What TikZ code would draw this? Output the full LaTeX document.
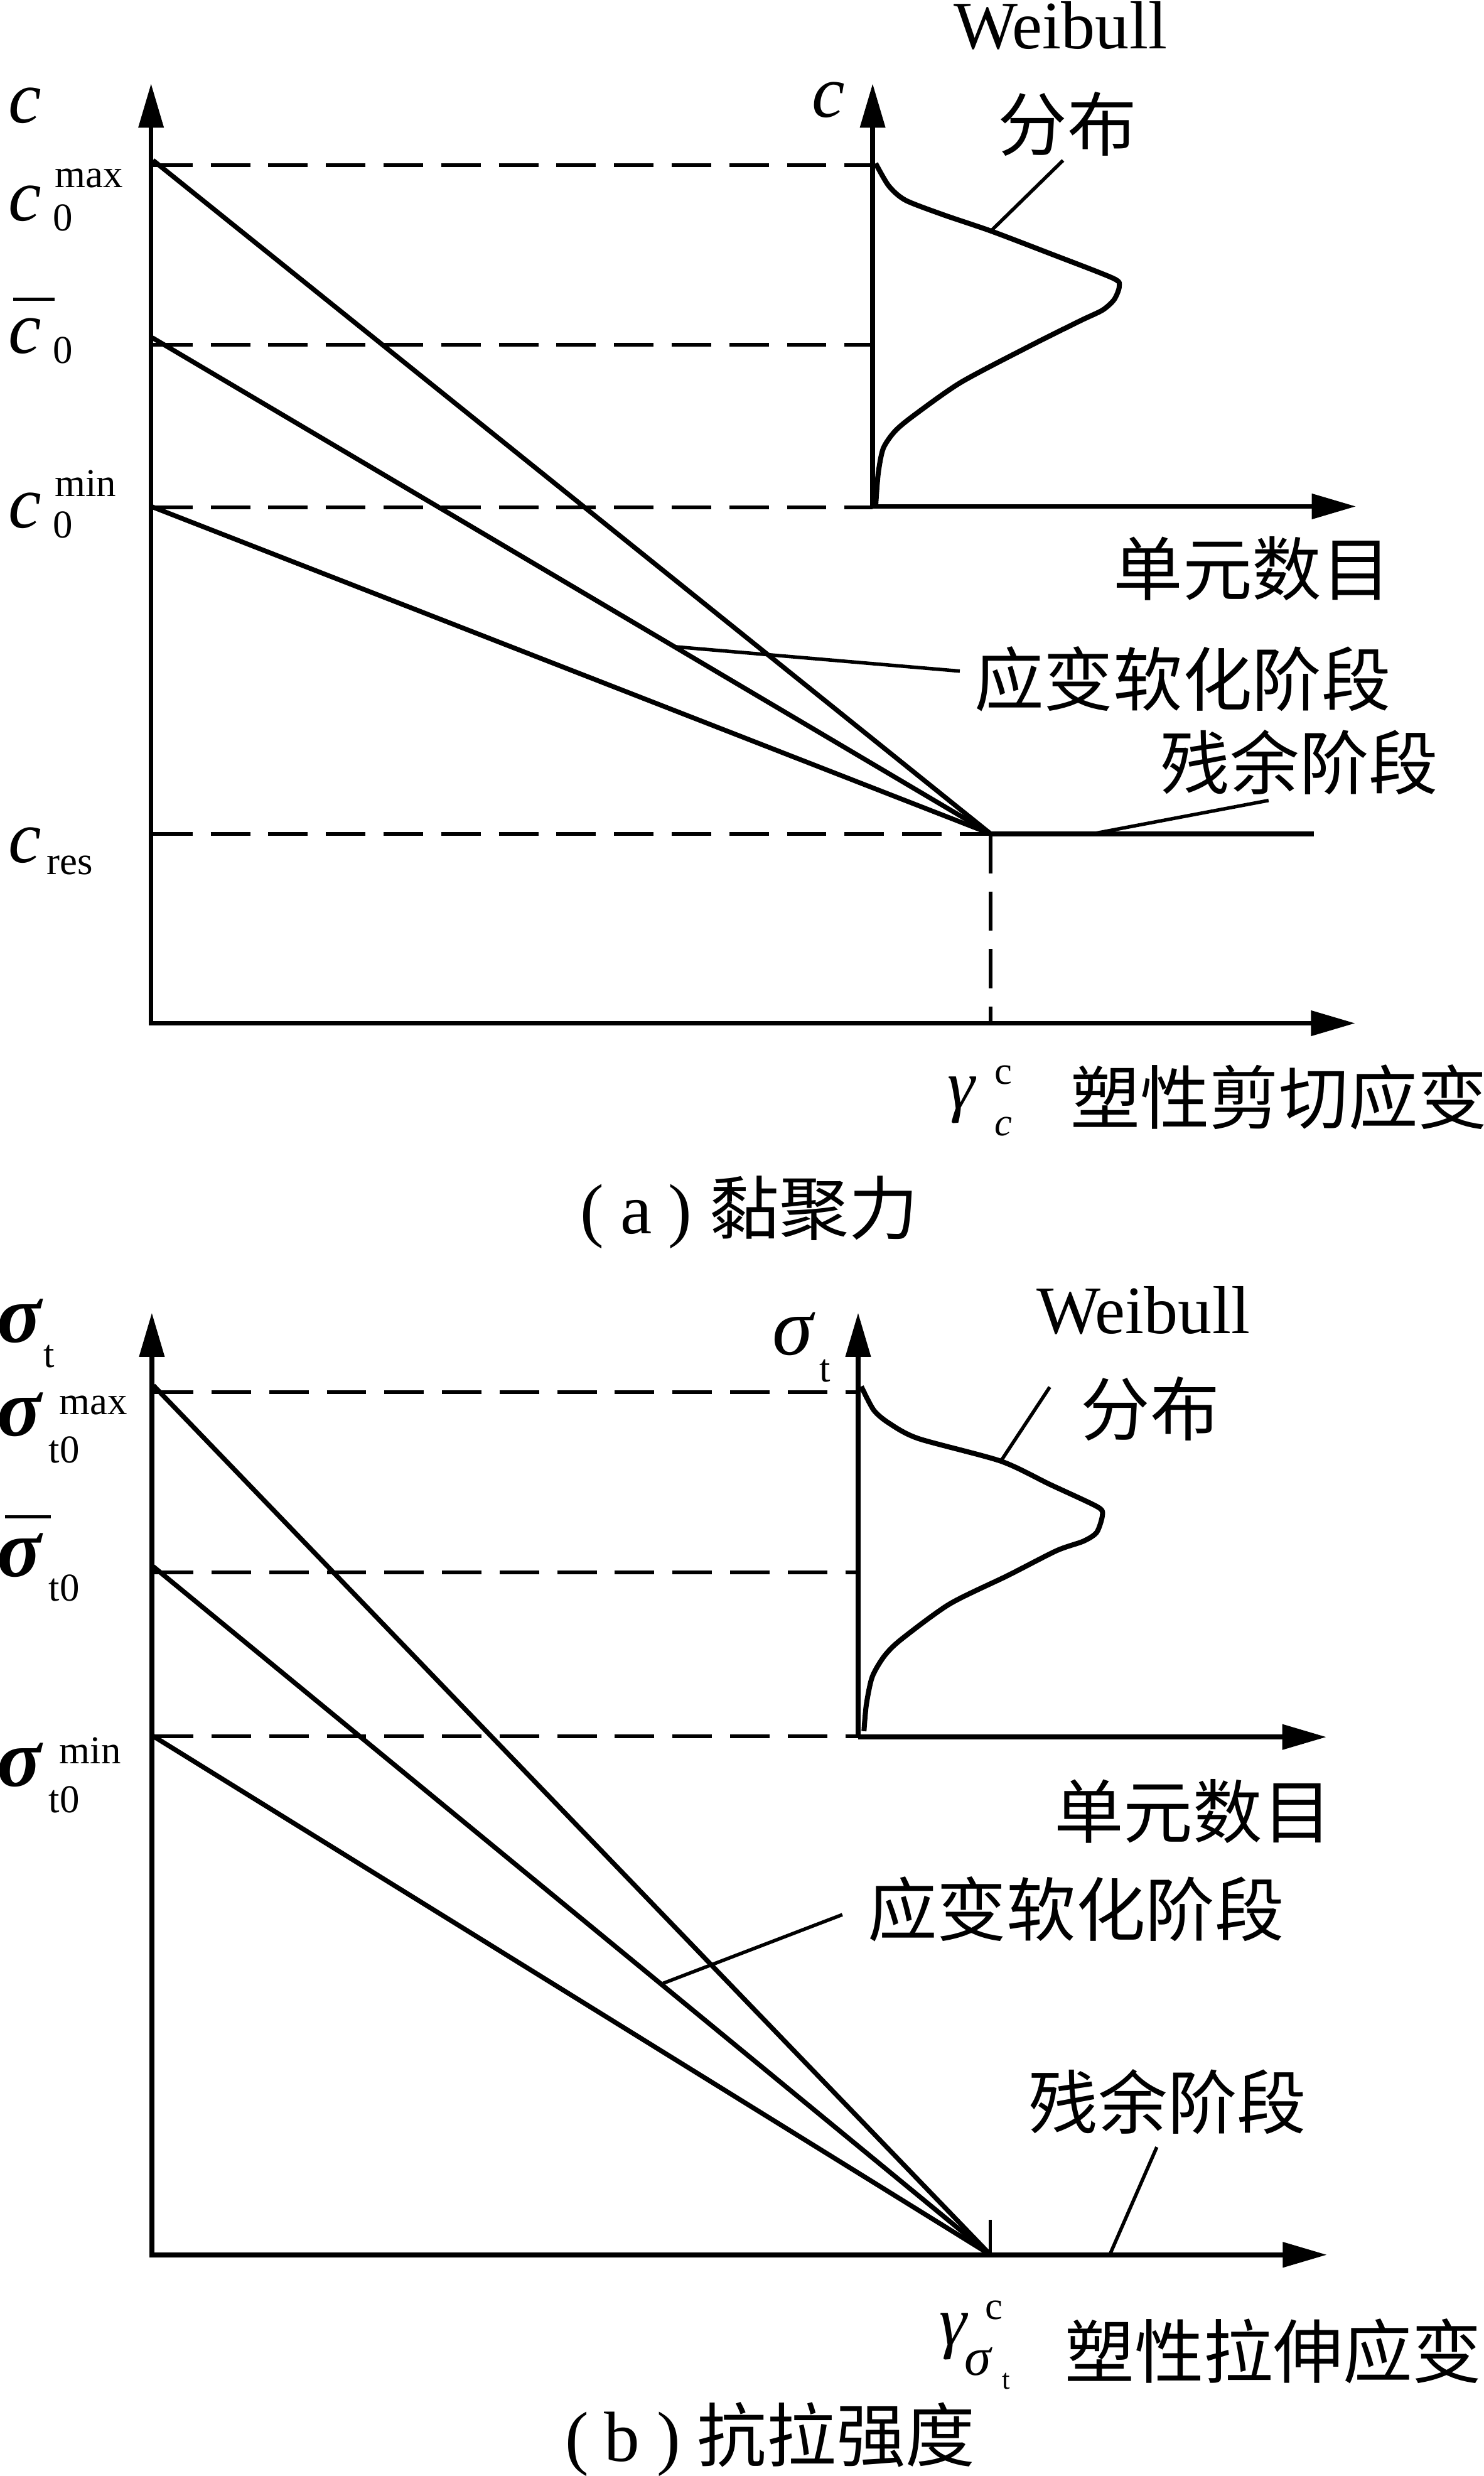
\documentclass[tikz,border=0pt]{standalone}
\usepackage{fontspec}
\setmainfont{Liberation Serif}
\newfontfamily\cjkfont{Noto Sans CJK SC}
\usetikzlibrary{arrows.meta}
\newcommand\szBig{\fontsize{47}{52}\selectfont}
\newcommand\szGam{\fontsize{44}{50}\selectfont}
\newcommand\szSig{\fontsize{52}{58}\selectfont}
\newcommand\szSm{\fontsize{25}{30}\selectfont}
\newcommand\szSubSig{\fontsize{34}{38}\selectfont}
\newcommand\szTiny{\fontsize{18}{22}\selectfont}
\newcommand\szW{\fontsize{43}{48}\selectfont}
\newcommand\szCap{\fontsize{45}{50}\selectfont}
\newcommand\szCJK{\fontsize{44}{50}\selectfont\cjkfont}
\begin{document}
\begin{tikzpicture}[x=1pt,y=-1pt,
  axis/.style={line width=3pt,-{Triangle[length=28pt,width=15.5pt]}},
  curveline/.style={line width=3pt},
  distline/.style={line width=3.2pt,line join=round},
  guide/.style={line width=2.3pt,dash pattern=on 25pt off 11.5pt},
  leader/.style={line width=2.2pt},
  barline/.style={line width=1.9pt},
  lb/.style={inner sep=0pt,anchor=base west},
  cj/.style={inner sep=0pt,anchor=west,font=\szCJK}]
\useasboundingbox (0,0) rectangle (940,1568);

% ================= panel (a) =================
\coordinate (aO)  at (95.7,648);
\coordinate (aX0) at (94.2,648);
\coordinate (aXt) at (858.5,648);
\coordinate (aYt) at (95.7,52.9);
\coordinate (aMax) at (96.9,101.5);
\coordinate (aBar) at (96.5,213.9);
\coordinate (aMin) at (96.5,321);
\coordinate (aP)   at (627.5,528);
\coordinate (aPb)  at (627.5,648);
\coordinate (aRes) at (832.4,528);
\coordinate (aMaxD) at (97,104.5);
\coordinate (aBarD) at (97,218.4);
\coordinate (aMinD) at (97,321.4);
\coordinate (aResD) at (97,528);
\coordinate (aIO) at (552.8,320.7);
\coordinate (aIY) at (552.8,52.9);
\coordinate (aIX) at (859,320.7);
\coordinate (aMaxE) at (552.8,104.5);
\coordinate (aBarE) at (552.8,218.4);
\coordinate (aMinE) at (552.8,321.4);

\draw[guide] (aMaxD) -- (aMaxE);
\draw[guide] (aBarD) -- (aBarE);
\draw[guide] (aMinD) -- (aMinE);
\draw[guide] (aResD) -- (aP);
\draw[guide] (aP) -- (aPb);

\draw[axis] (aO) -- (aYt);
\draw[axis] (aX0) -- (aXt);
\draw[axis] (aIO) -- (aIY);
\draw[axis] (aIO) -- (aIX);

\draw[curveline] (aMax) -- (aP);
\draw[curveline] (aBar) -- (aP);
\draw[curveline] (aMin) -- (aP);
\draw[curveline] (aP) -- (aRes);

\draw[distline] plot[smooth,tension=0.45] coordinates {
 (554.7,320.6) (556.3,300) (559.5,284) (567,273) (579,263)
 (608.6,242.2) (651.8,219.4) (684.2,203.2) (698.4,196.4) (705.8,189.7)
 (709,181.4) (705.1,176.2) (665,160.5) (627.5,146.2) (597.8,136.1)
 (573.6,126.8) (563,117.7) (554.7,103.5)};

\coordinate (aL1s) at (627.5,146.5);
\coordinate (aL1e) at (673.4,101.6);
\draw[leader] (aL1s) -- (aL1e);
\coordinate (aL2s) at (427,409.5);
\coordinate (aL2e) at (608,425);
\draw[leader] (aL2s) -- (aL2e);
\coordinate (aL3s) at (692.3,528);
\coordinate (aL3e) at (803.6,506.9);
\draw[leader] (aL3s) -- (aL3e);

% labels (a)
\node[lb,font=\szBig\itshape] (ac) at (5,77.6) {c};
\node[lb,font=\szBig\itshape] (acmax) at (5,139.7) {c};
\node[lb,font=\szSm] (amax) at (34.5,118.6) {max};
\node[lb,font=\szSm] (amax0) at (33.5,146) {0};
\coordinate (abarL) at (8.5,189.4);
\coordinate (abarR) at (34.5,189.4);
\draw[barline] (abarL) -- (abarR);
\node[lb,font=\szBig\itshape] (acbar) at (5,223.6) {c};
\node[lb,font=\szSm] (abar0) at (33.5,230) {0};
\node[lb,font=\szSm] (amin) at (34.5,314.5) {min};
\node[lb,font=\szBig\itshape] (acmin) at (5,334.4) {c};
\node[lb,font=\szSm] (amin0) at (33.5,340.5) {0};
\node[lb,font=\szBig\itshape] (acres) at (5,546) {c};
\node[lb,font=\szSm] (ares) at (29.5,553.7) {res};
\node[lb,font=\szBig\itshape] (aic) at (514,74.2) {c};
\node[lb,font=\szW] (aweib) at (604,30.8) {Weibull};
\node[cj] (afb) at (632,78.5) {分布};
\node[cj] (adym) at (705,360) {单元数目};
\node[cj] (asoft) at (617,430) {应变软化阶段};
\node[cj] (aresid) at (735,483) {残余阶段};
\node[lb,font=\szGam\itshape] (agam) at (600,702) {γ};
\node[lb,font=\szSm] (agsup) at (630,686.7) {c};
\node[lb,font=\szSm\itshape] (agsub) at (630,719) {c};
\node[cj] (aXlab) at (678,695) {塑性剪切应变};
\node[lb,font=\szCap] (acap1) at (367.5,781.3) {(};
\node[lb,font=\szCap] (acap2) at (393,781.3) {a};
\node[lb,font=\szCap] (acap3) at (423,781.3) {)};
\node[cj] (acap4) at (449.5,765) {黏聚力};

% ================= panel (b) =================
\coordinate (bO)  at (96.2,1427.9);
\coordinate (bX0) at (94.7,1427.9);
\coordinate (bXt) at (840.6,1427.9);
\coordinate (bYt) at (96.2,831.3);
\coordinate (bMax) at (97.2,877.4);
\coordinate (bBar) at (97,992);
\coordinate (bMin) at (97,1099.4);
\coordinate (bP)   at (627.4,1427.9);
\coordinate (bTk)  at (627.4,1405.9);
\coordinate (bMaxD) at (97.5,881.5);
\coordinate (bBarD) at (97.5,995.6);
\coordinate (bMinD) at (97.5,1099.4);
\coordinate (bIO) at (543.6,1100);
\coordinate (bIY) at (543.6,831.3);
\coordinate (bIX) at (840.3,1100);
\coordinate (bMaxE) at (543.6,881.5);
\coordinate (bBarE) at (543.6,995.6);
\coordinate (bMinE) at (543.6,1099.4);

\draw[guide] (bMaxD) -- (bMaxE);
\draw[guide] (bBarD) -- (bBarE);
\draw[guide] (bMinD) -- (bMinE);

\draw[axis] (bO) -- (bYt);
\draw[axis] (bX0) -- (bXt);
\draw[axis] (bIO) -- (bIY);
\draw[axis] (bIO) -- (bIX);

\draw[curveline] (bMax) -- (bP);
\draw[curveline] (bBar) -- (bP);
\draw[curveline] (bMin) -- (bP);
\draw[leader] (bP) -- (bTk);

\draw[distline] plot[smooth,tension=0.45] coordinates {
 (547.3,1096.3) (548.8,1079.5) (552.5,1062) (560,1049) (570.5,1038.5)
 (601.5,1015.8) (638.3,997.8) (669.3,982) (686.3,976) (694.8,970.3)
 (698.4,959) (694.8,954) (665,940) (634,925.3) (581.8,911)
 (563.4,901.4) (553.5,893) (545.6,878)};

\coordinate (bL1s) at (634,925.3);
\coordinate (bL1e) at (665,878.4);
\draw[leader] (bL1s) -- (bL1e);
\coordinate (bL2s) at (420,1256);
\coordinate (bL2e) at (533.6,1212.5);
\draw[leader] (bL2s) -- (bL2e);
\coordinate (bL3s) at (703,1427.9);
\coordinate (bL3e) at (732.8,1359.7);
\draw[leader] (bL3s) -- (bL3e);

% labels (b)
\node[lb,font=\szSig\bfseries\itshape] (bs) at (-2,850) {σ};
\node[lb,font=\szSm] (bst) at (27.5,866) {t};
\node[lb,font=\szSig\bfseries\itshape] (bsmax) at (-2,909.4) {σ};
\node[lb,font=\szSm] (bmax) at (37.5,895.7) {max};
\node[lb,font=\szSm] (bmax0) at (30.7,926.5) {t0};
\coordinate (bbarL) at (3.3,960.6);
\coordinate (bbarR) at (32.4,960.6);
\draw[barline] (bbarL) -- (bbarR);
\node[lb,font=\szSig\bfseries\itshape] (bsbar) at (-2,998.4) {σ};
\node[lb,font=\szSm] (bbar0) at (30.7,1014) {t0};
\node[lb,font=\szSm] (bmin) at (37.5,1117) {min};
\node[lb,font=\szSig\bfseries\itshape] (bsmin) at (-2,1131) {σ};
\node[lb,font=\szSm] (bmin0) at (30.7,1148) {t0};
\node[lb,font=\szSig\itshape] (bis) at (489,858) {σ};
\node[lb,font=\szSm] (bist) at (519,875) {t};
\node[lb,font=\szW] (bweib) at (656.5,844.5) {Weibull};
\node[cj] (bfb) at (684.5,892) {分布};
\node[cj] (bdym) at (667.5,1147) {单元数目};
\node[cj] (bsoft) at (549.5,1209) {应变软化阶段};
\node[cj] (bresid) at (651.5,1331) {残余阶段};
\node[lb,font=\szGam\itshape] (bgam) at (595,1485) {γ};
\node[lb,font=\szSm] (bgsup) at (624,1468.6) {c};
\node[lb,font=\szSubSig\itshape] (bgsub) at (611,1504) {σ};
\node[lb,font=\szTiny] (bgsubt) at (634.5,1513) {t};
\node[cj] (bXlab) at (674.5,1489) {塑性拉伸应变};
\node[lb,font=\szCap] (bcap1) at (358,1558.6) {(};
\node[lb,font=\szCap] (bcap2) at (382.5,1558.6) {b};
\node[lb,font=\szCap] (bcap3) at (416,1558.6) {)};
\node[cj] (bcap4) at (441.5,1542) {抗拉强度};
\end{tikzpicture}
\end{document}
